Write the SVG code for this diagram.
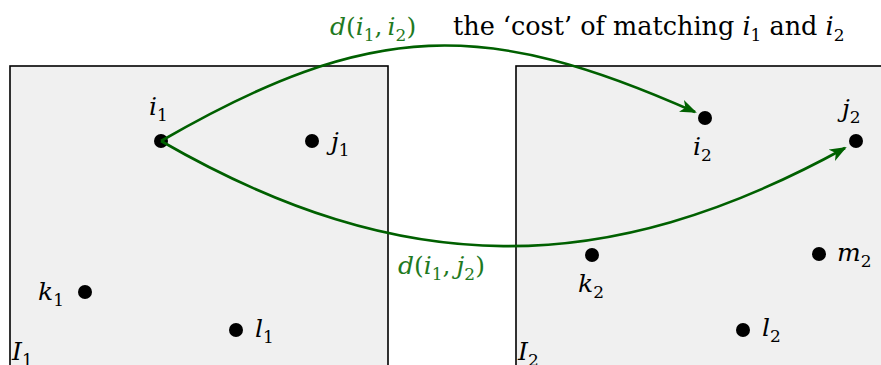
<svg xmlns="http://www.w3.org/2000/svg" width="881" height="365" viewBox="0 0 881 365">
<style>
.box{fill:#f0f0f0;stroke:#000;stroke-width:1.6}
.dot{fill:#000}
.m{font-family:"DejaVu Serif","Liberation Serif",serif;font-style:italic;font-size:25px;fill:#000}
.r{font-family:"DejaVu Serif","Liberation Serif",serif;font-size:25.5px;fill:#000}
.s{font-style:normal;font-size:17px}
.g{fill:#1f7a1f}
.arc{fill:none;stroke:#006000;stroke-width:2.6}
</style>
<defs>
<marker id="ah" viewBox="0 0 17 13" refX="15" refY="6.5" markerWidth="17" markerHeight="13" markerUnits="userSpaceOnUse" orient="auto">
<path d="M0,0 L17,6.5 L0,13 L4.5,6.5 Z" fill="#006000"/>
</marker>
</defs>
<rect width="881" height="365" fill="#fff"/>
<g id="I1box"><rect class="box" x="10" y="66" width="378" height="310"/><text class="m" x="12" y="360">I<tspan class="s" dy="6">1</tspan></text></g>
<g id="I2box"><rect class="box" x="516" y="66" width="380" height="310"/><text class="m" x="518" y="360">I<tspan class="s" dy="6">2</tspan></text></g>
<g id="i1"><circle class="dot" cx="161" cy="141" r="7"/><text class="m" x="149" y="115">i<tspan class="s" dy="6">1</tspan></text></g>
<g id="j1"><circle class="dot" cx="312" cy="141" r="7"/><text class="m" x="331" y="150">j<tspan class="s" dy="6">1</tspan></text></g>
<g id="k1"><circle class="dot" cx="85" cy="292" r="7"/><text class="m" x="38" y="300">k<tspan class="s" dy="6">1</tspan></text></g>
<g id="l1"><circle class="dot" cx="236" cy="330" r="7"/><text class="m" x="255" y="337">l<tspan class="s" dy="6">1</tspan></text></g>
<g id="i2"><circle class="dot" cx="705" cy="118" r="7"/><text class="m" x="693" y="155">i<tspan class="s" dy="6">2</tspan></text></g>
<g id="j2"><circle class="dot" cx="856" cy="141" r="7"/><text class="m" x="842" y="117">j<tspan class="s" dy="6">2</tspan></text></g>
<g id="k2"><circle class="dot" cx="592" cy="255" r="7"/><text class="m" x="578" y="292">k<tspan class="s" dy="6">2</tspan></text></g>
<g id="m2"><circle class="dot" cx="819" cy="254" r="7"/><text class="m" x="837" y="261">m<tspan class="s" dy="6">2</tspan></text></g>
<g id="l2"><circle class="dot" cx="743" cy="330" r="7"/><text class="m" x="762" y="336">l<tspan class="s" dy="6">2</tspan></text></g>
<g id="connectors">
<path class="arc" d="M161,141 C372,19 486,19 695,112" marker-end="url(#ah)"/>
<path class="arc" d="M161,141 C402,280 605,280 845,148" marker-end="url(#ah)"/>
</g>
<g id="labels">
<text class="m g" x="330" y="35">d<tspan font-style="normal">(</tspan>i<tspan class="s" dy="6">1</tspan><tspan dy="-6" font-style="normal">,</tspan><tspan dx="5">i</tspan><tspan class="s" dy="6">2</tspan><tspan dy="-6" font-style="normal">)</tspan></text>
<text class="r" x="453" y="35">the ‘cost’ of matching <tspan font-style="italic">i</tspan><tspan class="s" dy="6">1</tspan><tspan dy="-6"> and </tspan><tspan font-style="italic">i</tspan><tspan class="s" dy="6">2</tspan></text>
<text class="m g" x="398" y="274">d<tspan font-style="normal">(</tspan>i<tspan class="s" dy="6">1</tspan><tspan dy="-6" font-style="normal">,</tspan><tspan dx="6">j</tspan><tspan class="s" dy="6">2</tspan><tspan dy="-6" font-style="normal">)</tspan></text>
</g>
</svg>
